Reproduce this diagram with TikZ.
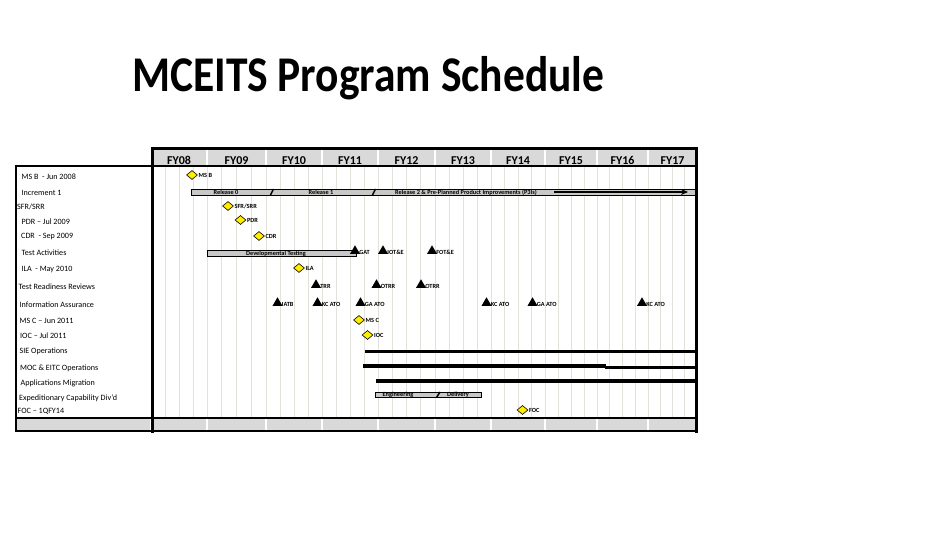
\documentclass[tikz,border=0pt]{standalone}
\usepackage{fontspec}
\setmainfont{Carlito}
\newfontfamily\titlefont[FakeStretch=0.87]{Carlito}
\usetikzlibrary{shapes.geometric,arrows.meta}

\definecolor{hdrgray}{RGB}{217,217,217}
\definecolor{qgray}{RGB}{226,226,218}
\definecolor{bargray}{RGB}{200,200,200}
\definecolor{msyellow}{RGB}{255,238,0}

\begin{document}
\begin{tikzpicture}[x=1pt,y=-1pt,>=stealth,
  rowlbl/.style={anchor=west,inner sep=0pt,font=\fontsize{8.1}{9}\selectfont},
  fy/.style={inner sep=0pt,font=\bfseries\fontsize{12}{12}\selectfont},
  tag/.style={anchor=west,inner sep=0.6pt,font=\bfseries\fontsize{6.3}{7}\selectfont},
  bartxt/.style={anchor=base,inner sep=0pt,font=\bfseries\fontsize{6.3}{7}\selectfont},
  ms/.style={diamond,draw=black,fill=msyellow,line width=0.6pt,inner sep=0pt,
    minimum width=11pt,minimum height=9pt},
  ev/.style={regular polygon,regular polygon sides=3,fill=black,inner sep=0pt,
    minimum size=11.5pt},
  bar/.style={draw=black,fill=bargray,line width=0.8pt},
  ops/.style={line width=3.4pt},
  cut/.style={line width=1.5pt},
  qline/.style={draw=qgray,line width=0.9pt}]
  \useasboundingbox (0,0) rectangle (925,540);

  % title
  \node[anchor=base west,inner sep=0pt,
    font=\titlefont\bfseries\fontsize{50}{50}\selectfont] (title) at (132,92)
    {MCEITS Program Schedule};

  % quarter lines and fiscal years
  \fill[hdrgray] (151,148) rectangle (697,166);
  \fill[hdrgray] (16,418) rectangle (697,431);
  \foreach \a/\b/\t in {151/207/FY08,207/266/FY09,266/322/FY10,322/378/FY11,
      378/435/FY12,435/491/FY13,491/545/FY14,545/597/FY15,597/648/FY16,648/697/FY17}{
    \draw[qline] (\a,167) -- (\a,417);
    \foreach \k in {1,2,3}
      \draw[qline] ({\a+\k*(\b-\a)/4},167) -- ({\a+\k*(\b-\a)/4},417);
    \draw[white,line width=1.2pt] (\a,149) -- (\a,165);
    \draw[white,line width=1.2pt] (\a,419) -- (\a,430);
    \node[fy] (\t) at ({(\a+\b)/2},160.5) {\t};
  }

  % row labels
  \node[rowlbl] (r1) at (21.5,176.5) {MS B \ - Jun 2008};
  \node[rowlbl] (r2) at (21.5,192.5) {Increment 1};
  \node[rowlbl] (r3) at (17,206.5) {SFR/SRR};
  \node[rowlbl] (r4) at (21.5,221.5) {PDR -- Jul 2009};
  \node[rowlbl] (r5) at (21,236.5) {CDR \ - Sep 2009};
  \node[rowlbl] (r6) at (21.5,252.5) {Test Activities};
  \node[rowlbl] (r7) at (21.5,269.5) {ILA \ - May 2010};
  \node[rowlbl] (r8) at (18.5,286.5) {Test Readiness Reviews};
  \node[rowlbl] (r9) at (19.5,305) {Information Assurance};
  \node[rowlbl] (r10) at (19.5,321) {MS C -- Jun 2011};
  \node[rowlbl] (r11) at (20,335.5) {IOC -- Jul 2011};
  \node[rowlbl] (r12) at (19.5,351.5) {SIE Operations};
  \node[rowlbl] (r13) at (20,368) {MOC \& EITC Operations};
  \node[rowlbl] (r14) at (20.5,383) {Applications Migration};
  \node[rowlbl] (r15) at (19,398) {Expeditionary Capability Div'd};
  \node[rowlbl] (r16) at (17.5,411) {FOC -- 1QFY14};

  % bars
  \draw[bar] (191,189) rectangle (697,195);
  \node[bartxt] (rel0) at (226,194.3) {Release 0};
  \node[bartxt] (rel1) at (321,194.3) {Release 1};
  \node[bartxt] (rel2) at (466,194.3) {Release 2 \& Pre-Planned Product Improvements (P3Is)};
  \draw[cut] (270.5,195) -- (273.5,189);
  \draw[cut] (372.5,195) -- (375.5,189);
  \coordinate (arrA) at (554,192);
  \coordinate (arrB) at (688,192);
  \draw[line width=1.8pt,-{Stealth[length=7pt,width=6pt]}] (arrA) -- (arrB);

  \draw[bar] (207,250) rectangle (356,256);
  \node[bartxt] (devt) at (276,255.3) {Developmental Testing};

  \draw[bar] (375.5,392) rectangle (481.5,397.5);
  \node[bartxt] (eng) at (398,396.8) {Engineering};
  \node[bartxt] (dlv) at (458,396.8) {Delivery};
  \draw[cut] (436.5,397.5) -- (440,392);

  % operations
  \draw[ops] (365,351.5) -- (697,351.5);
  \draw[ops] (363,366) -- (606,366);
  \draw[ops] (605,367.3) -- (697,367.3);
  \draw[ops] (376,381) -- (697,381);

  % milestones
  \node[ms] (msb) at (192,175) {};
  \node[tag] at (msb.east) {MS B};
  \node[ms] (sfr) at (228,206) {};
  \node[tag] at (sfr.east) {SFR/SRR};
  \node[ms] (pdr) at (240.5,220) {};
  \node[tag] at (pdr.east) {PDR};
  \node[ms] (cdr) at (259,236) {};
  \node[tag] at (cdr.east) {CDR};
  \node[ms] (ila) at (299,268) {};
  \node[tag] at (ila.east) {ILA};
  \node[ms] (msc) at (359,320) {};
  \node[tag] at (msc.east) {MS C};
  \node[ms] (ioc) at (367.5,335) {};
  \node[tag] at (ioc.east) {IOC};
  \node[ms] (foc) at (522.5,410) {};
  \node[tag] at (foc.east) {FOC};

  % events
  \foreach \n/\x/\y/\t in {gat/355/251/GAT,iote/383/251/IOT\&E,fote/432/251/FOT\&E,
      trr/316/285/TRR,otra/376.5/285/OTRR,otrb/421/285/OTRR,
      iatb/277.5/303/IATB,kca/317.5/303/KC ATO,gaa/360.5/303/GA ATO,
      kcb/486.5/303/KC ATO,gab/532.5/303/GA ATO,kcc/642/303/KC ATO}{
    \node[ev] (\n) at (\x,\y) {};
    \node[tag] at ([yshift=-1.5pt]\n.east) {\t};
  }

  % frame
  \draw[line width=3pt] (151,148.5) -- (697,148.5);
  \draw[line width=2pt] (16,166) -- (697,166);
  \draw[line width=2pt] (16,165) -- (16,432);
  \draw[line width=3pt] (152.5,147) -- (152.5,433);
  \draw[line width=3pt] (696,147) -- (696,433);
  \draw[line width=2.5pt] (16,418) -- (697,418);
  \draw[line width=2.5pt] (16,431) -- (697,431);
\end{tikzpicture}
\end{document}
